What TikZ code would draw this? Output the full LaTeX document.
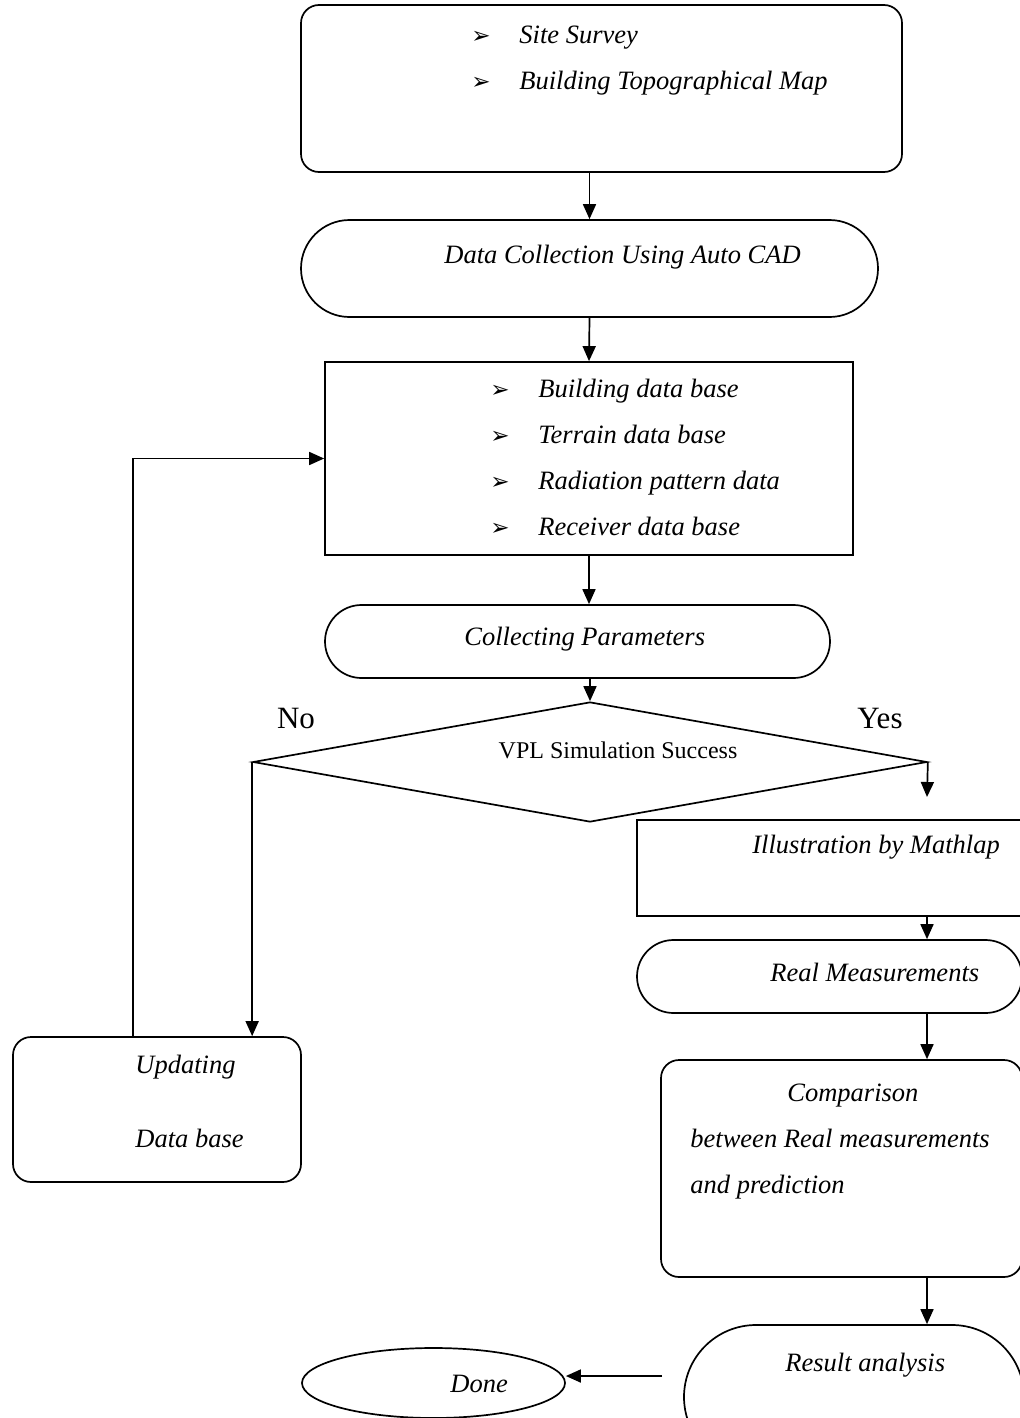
\documentclass[tikz,border=0pt]{standalone}
\usepackage{fontspec}
\setmainfont{Liberation Serif}
\newfontfamily\dingfont{DejaVu Sans}
\usetikzlibrary{arrows.meta,calc,shapes.geometric,shapes.misc}
\definecolor{fcink}{HTML}{000000}
\newcommand{\bul}{{\dingfont\fontsize{11.5}{12}\selectfont ➢}}

\begin{document}
\begin{tikzpicture}[x=0.5pt, y=-0.5pt, font=\fontsize{13.25}{16}\selectfont\itshape, text=fcink,
    line/.style={draw=fcink, line width=0.85pt},
    arr/.style={line, -{Triangle[length=7.5pt, width=6.5pt]}},
    rbox/.style={line, rectangle, rounded corners=9pt, inner sep=0pt},
    sbox/.style={line, rectangle, inner sep=0pt},
    term/.style={line, rounded rectangle, inner sep=0pt},
    oval/.style={line, ellipse, inner sep=0pt},
    txt/.style={anchor=west, inner sep=0pt, text height=1.6ex, text depth=0.4ex},
    lbl/.style={font=\fontsize{15.5}{18}\selectfont\upshape, inner sep=0pt},
  ]
  \useasboundingbox (0,0) rectangle (1020,1418);

  % boxes of the main column
  \node[rbox, minimum width=300.5pt, minimum height=83.5pt] (survey) at (601.5,88.5) {};
  \node[term, minimum width=288.5pt, minimum height=48.5pt] (dc) at (589.5,268.5) {};
  \node[sbox, minimum width=264pt, minimum height=96.5pt] (db) at (589,458.5) {};
  \node[term, minimum width=252.5pt, minimum height=36.5pt] (params) at (577.5,641.5) {};
  \node[line, diamond, minimum width=337pt, minimum height=60pt, inner sep=0pt] (vpl) at (590,762) {};

  % yes branch, running off the right edge
  \node[sbox, minimum width=196.5pt, minimum height=48pt] (illus) at (833.5,868) {};
  \node[term, minimum width=192.5pt, minimum height=36.5pt] (real) at (829.5,976.5) {};
  \node[rbox, minimum width=180.5pt, minimum height=108.5pt] (comp) at (841.5,1168.5) {};
  \node[term, minimum width=170pt, minimum height=72pt] (result) at (854,1397) {};
  \node[oval, minimum width=131.5pt, minimum height=35pt] (done) at (433.5,1383) {};

  % no branch
  \node[rbox, minimum width=144pt, minimum height=72.5pt] (upd) at (157,1109.5) {};

  % texts
  \node[txt] (svbul1) at (471,38) {\bul};
  \node[txt] (svtxt1) at (519,38) {Site Survey};
  \node[txt] (svbul2) at (471,84) {\bul};
  \node[txt] (svtxt2) at (519,84) {Building Topographical Map};
  \node[txt] (dctxt) at (444,258) {Data Collection Using Auto CAD};
  \foreach \t [count=\i] in {Building data base, Terrain data base, Radiation pattern data, Receiver data base} {
    \node[txt] (dbbul\i) at (490,346+46*\i) {\bul};
    \node[txt] (dbtxt\i) at (538,346+46*\i) {\t};
  }
  \node[txt] (partxt) at (464,640) {Collecting Parameters};
  \node[inner sep=0pt, font=\fontsize{12}{14}\selectfont\upshape] (vpltxt) at (618,750) {VPL Simulation Success};
  \node[lbl] (no) at (296,718) {No};
  \node[lbl] (yes) at (880,718) {Yes};
  \node[txt] (iltxt) at (752,848) {Illustration by Mathlap};
  \node[txt] (retxt) at (770,976) {Real Measurements};
  \node[txt] (cotxt1) at (787,1096) {Comparison};
  \node[txt] (cotxt2) at (690,1142) {between Real measurements};
  \node[txt] (cotxt3) at (690,1188) {and prediction};
  \node[txt] (rstxt) at (785,1366) {Result analysis};
  \node[txt] (dntxt) at (450,1387) {Done};
  \node[txt] (uptxt1) at (135,1068) {Updating};
  \node[txt] (uptxt2) at (135,1142) {Data base};

  % connectors
  \coordinate (yesend) at (927,797);
  \coordinate (resout) at (662,1376);
  \draw[arr] (survey.south -| dc.north) -- (dc.north);
  \draw[arr] (dc.south) -- (db.north);
  \draw[arr] (db.south) -- (db.south |- params.north);
  \draw[arr] (params.south -| vpl.north) -- (vpl.north);
  \draw[arr] (vpl.west) -- (vpl.west |- upd.north);
  \draw[arr] ([xshift=-12pt]upd.north) |- (db.west);
  \draw[arr] (vpl.east) -- (yesend);
  \draw[arr] (illus.south -| yesend) -- (real.north -| yesend);
  \draw[arr] (real.south -| yesend) -- (comp.north -| yesend);
  \draw[arr] (comp.south -| yesend) -- (result.north -| yesend);
  \draw[arr] (resout) -- (resout -| done.east);
\end{tikzpicture}
\end{document}
